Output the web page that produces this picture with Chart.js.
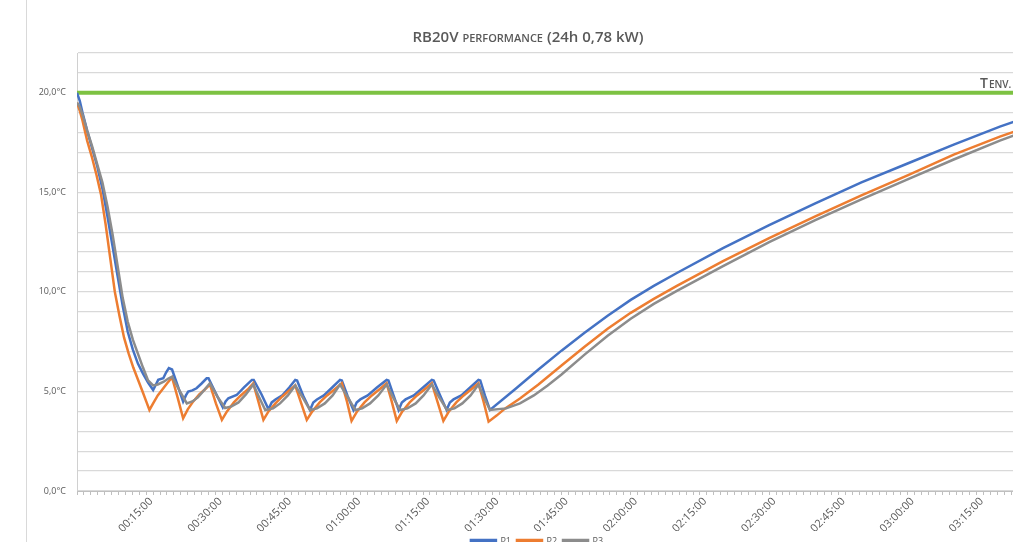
<!DOCTYPE html>
<html>
<head>
<meta charset="utf-8">
<title>RB20V performance</title>
<script src="https://cdn.jsdelivr.net/npm/chart.js@4.4.1/dist/chart.umd.min.js"></script>
<style>
  html, body { margin: 0; padding: 0; background: #fff; overflow: hidden; }
  #wrap { position: relative; width: 1056px; height: 560px; }
  #title {
    position: absolute; left: 0; top: 26px; width: 1056px;
    text-align: center; font-family: 'Open Sans', sans-serif;
    font-weight: 600; font-size: 15px; color: #595959;
  }
  #title .sc { font-variant: small-caps; }
</style>
</head>
<body>
<div id="wrap">
  <canvas id="chart" width="1056" height="560"></canvas>
  <div id="title">RB20V <span class="sc">performance</span> (24h 0,78 kW)</div>
</div>
<script>
// time in minutes since start, temperature in °C
const p1Time = [
  0, 0.6, 1.2, 2.2, 3.3, 4.4, 5.5, 6.6, 7.7, 8.8, 9.9, 11, 12.1, 13.2, 14.3, 15.4, 16.5,
  17, 17.6, 18.7, 19.3, 19.9, 20.6, 21.8, 23,
  23.6, 24.1, 25, 25.9, 27, 28.1, 28.5, 30, 31.6,
  32.2, 32.8, 34.6, 36.2, 37.9, 38.3, 40, 41.5,
  42.2, 43, 44.5, 46, 47.3, 47.7, 49, 50.5,
  51.2, 52, 53.5, 55.3, 57, 57.4, 58.6, 59.9,
  60.6, 61.4, 63, 65, 67.1, 67.5, 68.6, 69.7,
  70.4, 71.2, 73, 75, 76.9, 77.3, 78.7, 80.1,
  80.8, 81.6, 83.3, 85.2, 87, 87.4, 88.4, 89.5,
  95, 100, 105, 110, 115, 120, 125, 130, 140, 150, 160, 170, 180, 190, 200, 210
];
const p1Temp = [
  20.0, 19.6, 19.0, 18.1, 17.2, 16.3, 15.2, 13.8, 12.3, 10.8, 9.3, 8.0, 7.1, 6.4, 5.9, 5.45, 5.07,
  5.3, 5.58, 5.66, 5.95, 6.17, 6.1, 5.3, 4.49,
  4.8, 4.99, 5.05, 5.16, 5.4, 5.66, 5.66, 4.95, 4.2,
  4.5, 4.66, 4.82, 5.2, 5.58, 5.58, 4.85, 4.1,
  4.45, 4.6, 4.8, 5.2, 5.58, 5.55, 4.8, 4.07,
  4.45, 4.6, 4.8, 5.2, 5.58, 5.55, 4.8, 4.07,
  4.45, 4.6, 4.8, 5.2, 5.58, 5.55, 4.8, 4.07,
  4.45, 4.6, 4.8, 5.2, 5.58, 5.55, 4.8, 4.07,
  4.45, 4.6, 4.8, 5.2, 5.58, 5.55, 4.8, 4.07,
  5.12, 6.1, 7.05, 7.95, 8.8, 9.6, 10.3, 10.95, 12.2, 13.35, 14.45, 15.5, 16.45, 17.4, 18.3, 19.1
];

const p2Time = [
  0, 0.6, 1.2, 2.2, 3.2, 4.2, 5.2, 6.2, 7.2, 8.2, 9.2, 10.2, 11.2, 12.2, 13.2, 14.2, 15, 15.7,
  16.5, 17.5, 18.5, 19.5, 20.6, 21.8, 23,
  24, 25.2, 26.5, 27.7, 28.8, 30.1, 31.4,
  32.5, 34, 35.5, 37, 38.2, 39.3, 40.4,
  41.5, 43, 44.5, 46, 47.3, 48.6, 49.8,
  51, 52.6, 54.2, 55.8, 57.4, 58.5, 59.5,
  60.7, 62.3, 63.9, 65.5, 67.1, 68.2, 69.3,
  70.5, 72.1, 73.7, 75.3, 76.9, 78.1, 79.4,
  80.6, 82.2, 83.8, 85.4, 87, 88.1, 89.2,
  91, 92.8, 96, 100, 105, 110, 115, 120, 125, 130, 140, 150, 160, 170, 180, 190, 200, 210
];
const p2Temp = [
  19.5, 19.1, 18.6, 17.6, 16.8, 15.9, 14.9, 13.4, 11.7, 10.0, 8.8, 7.7, 6.9, 6.2, 5.6, 5.0, 4.5, 4.07,
  4.4, 4.8, 5.1, 5.4, 5.7, 4.7, 3.65,
  4.1, 4.5, 4.85, 5.1, 5.35, 4.4, 3.57,
  4.0, 4.45, 4.8, 5.1, 5.41, 4.5, 3.57,
  4.0, 4.4, 4.75, 5.05, 5.3, 4.4, 3.57,
  4.0, 4.45, 4.8, 5.1, 5.41, 4.5, 3.52,
  4.0, 4.45, 4.8, 5.1, 5.41, 4.5, 3.52,
  4.0, 4.45, 4.8, 5.1, 5.41, 4.5, 3.52,
  4.0, 4.45, 4.8, 5.1, 5.41, 4.5, 3.48,
  3.8, 4.15, 4.65, 5.35, 6.3, 7.25, 8.15, 8.95, 9.65, 10.3, 11.55, 12.7, 13.8, 14.85, 15.85, 16.9, 17.8, 18.6
];

const p3Time = [
  0, 0.6, 1.2, 2.2, 3.3, 4.4, 5.5, 6.6, 7.7, 8.8, 9.9, 11, 12.1, 13.2, 14.3, 15.4, 16.5,
  17.5, 18.8, 19.8, 20.6, 22.2, 23.8,
  25, 26.2, 27.5, 28.8, 30.4, 32.1,
  33.5, 35, 36.6, 38.2, 39.5, 40.8,
  42.5, 44, 45.7, 47.3, 48.9, 50.5,
  52, 53.7, 55.4, 57, 58.7, 60.3,
  61.8, 63.5, 65.3, 67.1, 68.5, 70,
  71.6, 73.4, 75.1, 76.9, 78.5, 80.2,
  81.8, 83.5, 85.3, 87, 88.2, 89.5,
  93, 96, 99, 102, 105, 110, 115, 120, 125, 130, 140, 150, 160, 170, 180, 190, 200, 210
];
const p3Temp = [
  19.5, 19.3, 18.9, 18.1, 17.3, 16.4, 15.5, 14.3, 12.9, 11.3, 9.7, 8.5, 7.6, 6.9, 6.2, 5.55, 5.3,
  5.35, 5.49, 5.65, 5.74, 5.05, 4.4,
  4.5, 4.7, 5.05, 5.41, 4.75, 4.17,
  4.25, 4.45, 4.85, 5.35, 4.7, 4.07,
  4.15, 4.4, 4.8, 5.3, 4.7, 4.07,
  4.15, 4.4, 4.8, 5.35, 4.7, 4.07,
  4.15, 4.4, 4.8, 5.35, 4.7, 4.07,
  4.15, 4.4, 4.8, 5.35, 4.7, 4.07,
  4.15, 4.4, 4.8, 5.35, 4.7, 4.07,
  4.15, 4.4, 4.8, 5.3, 5.85, 6.85, 7.8, 8.65, 9.4, 10.05, 11.3, 12.5, 13.6, 14.65, 15.65, 16.65, 17.6, 18.45
];

const tenvValue = 20;
const xMax = 210;
const yMax = 22;

const toPoints = (times, temps) => times.map((t, i) => ({ x: t, y: temps[i] }));

const fmtTime = (min) => {
  const h = Math.floor(min / 60);
  const m = Math.round(min % 60);
  return String(h).padStart(2, "0") + ":" + String(m).padStart(2, "0") + ":00";
};

const frameLine = {
  id: "frameLine",
  beforeDraw(chart) {
    const ctx = chart.ctx;
    ctx.save();
    ctx.strokeStyle = "#d9d9d9";
    ctx.lineWidth = 1;
    ctx.beginPath();
    ctx.moveTo(26.5, 0);
    ctx.lineTo(26.5, chart.height);
    ctx.stroke();
    ctx.restore();
  },
};

const tenvLabel = {
  id: "tenvLabel",
  afterDatasetsDraw(chart) {
    const ctx = chart.ctx;
    const yy = chart.scales.y.getPixelForValue(tenvValue) - 5;
    ctx.save();
    ctx.fillStyle = "#595959";
    ctx.textAlign = "left";
    ctx.textBaseline = "alphabetic";
    ctx.font = "600 14px 'Open Sans'";
    const x0 = 980;
    ctx.fillText("T", x0, yy);
    const w = ctx.measureText("T").width;
    ctx.font = "600 10px 'Open Sans'";
    ctx.fillText("ENV.", x0 + w + 1, yy);
    ctx.restore();
  },
};

Chart.defaults.font.family = "'Open Sans', sans-serif";
Chart.defaults.color = "#595959";

const line = (label, data, color, order) => ({
  label: label,
  data: data,
  borderColor: color,
  backgroundColor: color,
  borderWidth: 2.5,
  pointRadius: 0,
  tension: 0,
  order: order,
});

new Chart(document.getElementById("chart"), {
  type: "line",
  data: {
    datasets: [
      line("P1", toPoints(p1Time, p1Temp), "#4472C4", 3),
      line("P2", toPoints(p2Time, p2Temp), "#ED7D31", 2),
      line("P3", toPoints(p3Time, p3Temp), "#8C8C8C", 1),
      Object.assign(line("Tenv.", [{ x: 0, y: tenvValue }, { x: xMax, y: tenvValue }], "#7DC242", 4), { borderWidth: 4 }),
    ],
  },
  options: {
    responsive: false,
    animation: false,
    layout: { padding: { top: 53, left: 28, right: 10, bottom: 4 } },
    plugins: {
      title: { display: false },
      tooltip: { enabled: false },
      legend: {
        position: "bottom",
        labels: {
          boxWidth: 25,
          boxHeight: 3,
          padding: 6,
          font: { size: 9 },
          color: "#595959",
          filter: (item) => item.text !== "Tenv.",
          sort: (a, b) => a.datasetIndex - b.datasetIndex,
        },
      },
    },
    scales: {
      x: {
        type: "linear",
        min: 0,
        max: xMax,
        afterFit: (scale) => {
          scale.height = 40;
        },
        border: { color: "#bfbfbf" },
        grid: { drawOnChartArea: false, drawTicks: true, tickLength: 4, color: "#bfbfbf" },
        ticks: {
          stepSize: 1.5,
          autoSkip: false,
          minRotation: 45,
          maxRotation: 45,
          labelOffset: 5,
          padding: 0,
          font: { size: 11 },
          callback: (v) => {
            const m = Math.round(v * 10);
            return m > 0 && m % 150 === 0 ? fmtTime(m / 10) : "";
          },
        },
      },
      y: {
        min: 0,
        max: yMax,
        afterFit: (scale) => {
          scale.width = 49;
        },
        border: { color: "#d0d0d0" },
        grid: { color: "#d9d9d9", lineWidth: 1.2, drawTicks: false },
        ticks: {
          stepSize: 1,
          padding: 11,
          font: { size: 9 },
          callback: (v) => (v % 5 === 0 ? v.toFixed(1).replace(".", ",") + "°C" : ""),
        },
      },
    },
  },
  plugins: [frameLine, tenvLabel],
});
</script>
</body>
</html>
